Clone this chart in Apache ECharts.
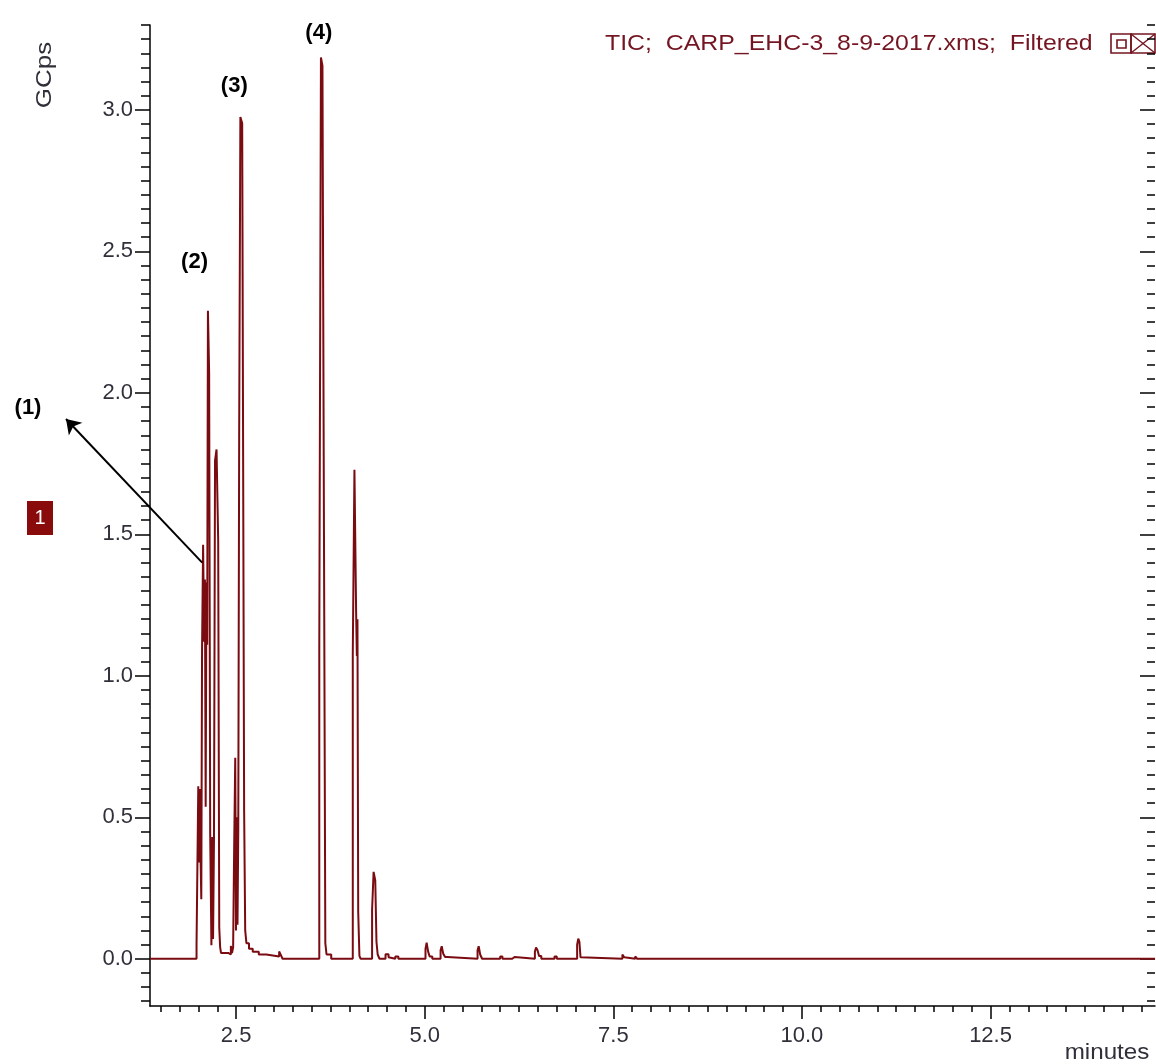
<!DOCTYPE html>
<html>
<head>
<meta charset="utf-8">
<script src="https://cdn.jsdelivr.net/npm/echarts@6/dist/echarts.min.js"></script>
<style>
  html, body { margin: 0; padding: 0; background: #ffffff; }
  #chart { width: 1156px; height: 1064px; }
</style>
</head>
<body>
<div id="chart"></div>
<script>
// Total ion chromatogram, step trace: each point is the time (min) a level starts and its intensity (GCps)
const traceTime = [
  1.358, 1.975, 1.998, 2.010, 2.018, 2.028, 2.038, 2.048, 2.062, 2.076,
  2.086, 2.096, 2.106, 2.116, 2.126, 2.142, 2.156, 2.172, 2.184, 2.194,
  2.206, 2.220, 2.240, 2.262, 2.276, 2.288, 2.300, 2.400, 2.430, 2.445,
  2.460, 2.474, 2.488, 2.498, 2.508, 2.518, 2.528, 2.540, 2.556, 2.580,
  2.606, 2.620, 2.636, 2.670, 2.720, 2.800, 2.900, 3.070, 3.095, 3.115,
  3.602, 3.624, 3.644, 3.664, 3.682, 3.698, 3.760,
  4.046, 4.068, 4.090, 4.100, 4.108, 4.118, 4.134, 4.150,
  4.302, 4.322, 4.344, 4.360, 4.376, 4.400,
  4.480, 4.520, 4.540, 4.610, 4.650,
  5.010, 5.025, 5.045, 5.065, 5.100,
  5.210, 5.225, 5.245, 5.270, 5.300,
  5.700, 5.715, 5.735, 5.760,
  6.000, 6.030, 6.160, 6.190,
  6.460, 6.475, 6.495, 6.515, 6.545,
  6.720, 6.750,
  7.020, 7.035, 7.050, 7.065, 7.085,
  7.620, 7.645, 7.670, 7.790, 7.815,
  14.68
];
const traceGcps = [
  0.000, 0.055, 0.610, 0.340, 0.600, 0.360, 0.210, 1.090, 1.463, 1.120,
  1.340, 0.537, 1.330, 1.110, 2.290, 2.070, 0.440, 0.048, 0.430, 0.070,
  0.420, 1.760, 1.800, 1.476, 0.110, 0.040, 0.020, 0.015, 0.045, 0.020,
  0.040, 0.400, 0.710, 0.100, 0.500, 0.120, 0.450, 1.850, 2.975, 2.953,
  0.520, 0.100, 0.055, 0.035, 0.025, 0.015, 0.008, 0.026, 0.012, 0.000,
  1.105, 3.185, 3.156, 1.508, 0.055, 0.015, 0.000,
  1.073, 1.728, 1.232, 1.070, 1.200, 0.165, 0.010, 0.000,
  0.173, 0.307, 0.277, 0.060, 0.015, 0.000,
  0.016, 0.005, 0.000, 0.008, 0.000,
  0.035, 0.057, 0.025, 0.008, 0.000,
  0.030, 0.044, 0.018, 0.006, 0.000,
  0.030, 0.044, 0.015, 0.000,
  0.008, 0.000, 0.006, 0.000,
  0.025, 0.040, 0.030, 0.010, 0.000,
  0.008, 0.000,
  0.050, 0.071, 0.060, 0.005, 0.000,
  0.015, 0.005, 0.000, 0.008, 0.000,
  0.000
];

// Annotated peaks
const peakLabels = ['(2)', '(3)', '(4)'];
const peakTimes = [2.134, 2.568, 3.635];
const peakValues = [2.29, 2.975, 3.185];
const peakLabelOffsets = [[-14, -49], [-7, -31], [-3, -25]];
const arrowFrom = [2.050, 1.40];   // pointer to peak (1)

// Axis ranges and tick labels
const X_MIN = 1.358, X_MAX = 14.68;
const Y_MIN = -0.167, Y_MAX = 3.30;
const xMajorTicks = [2.5, 5.0, 7.5, 10.0, 12.5];
const yMajorTicks = [0.0, 0.5, 1.0, 1.5, 2.0, 2.5, 3.0];
const xMinorTicks = [];
for (let i = 6; i <= 58; i++) xMinorTicks.push(i * 0.25);
const yMinorTicks = [];
for (let i = -3; i <= 66; i++) yMinorTicks.push(+(i * 0.05).toFixed(2));

const FONT = 'Liberation Sans, Arial, sans-serif';
const INK = '#000000';
const LABEL = '#30303a';
const TRACE = '#7a0b10';
const MAROON = '#741521';

const traceData = traceTime.map((t, i) => [t, traceGcps[i]]);

function axisBase(extra) {
  return Object.assign({
    type: 'value',
    splitLine: { show: false },
    axisLine: { show: true, onZero: false, lineStyle: { color: INK, width: 1.5 } },
    axisLabel: { show: false }
  }, extra);
}

const chart = echarts.init(document.getElementById('chart'), null, { renderer: 'canvas' });

chart.setOption({
  animation: false,
  backgroundColor: '#ffffff',
  grid: { left: 150, right: 1, top: 25, bottom: 58, containLabel: false },
  xAxis: [
    axisBase({
      min: X_MIN, max: X_MAX, position: 'bottom',
      axisTick: { show: true, length: 6, customValues: xMinorTicks, lineStyle: { color: INK, width: 1.5 } }
    }),
    axisBase({
      min: X_MIN, max: X_MAX, position: 'bottom',
      axisLine: { show: false, onZero: false },
      axisTick: { show: true, length: 13, customValues: xMajorTicks, lineStyle: { color: INK, width: 1.5 } },
      axisLabel: {
        show: true, customValues: xMajorTicks, margin: 19,
        color: LABEL, fontSize: 22, fontFamily: FONT,
        formatter: v => v.toFixed(1)
      }
    })
  ],
  yAxis: [
    axisBase({
      min: Y_MIN, max: Y_MAX, position: 'left',
      axisTick: { show: true, length: 9, customValues: yMinorTicks, lineStyle: { color: INK, width: 1.5 } }
    }),
    axisBase({
      min: Y_MIN, max: Y_MAX, position: 'left',
      axisLine: { show: false, onZero: false },
      axisTick: { show: true, length: 15, customValues: yMajorTicks, lineStyle: { color: INK, width: 1.5 } },
      axisLabel: {
        show: true, customValues: yMajorTicks, margin: 17,
        color: LABEL, fontSize: 22, fontFamily: FONT,
        formatter: v => v.toFixed(1)
      }
    }),
    axisBase({
      min: Y_MIN, max: Y_MAX, position: 'right',
      axisLine: { show: false, onZero: false },
      axisTick: { show: true, inside: true, length: 8, customValues: yMinorTicks, lineStyle: { color: INK, width: 1.5 } }
    }),
    axisBase({
      min: Y_MIN, max: Y_MAX, position: 'right',
      axisLine: { show: false, onZero: false },
      axisTick: { show: true, inside: true, length: 15, customValues: yMajorTicks, lineStyle: { color: INK, width: 1.5 } }
    })
  ],
  series: [{
    type: 'line',
    xAxisIndex: 0,
    yAxisIndex: 0,
    step: 'end',
    showSymbol: false,
    clip: false,
    data: traceData,
    lineStyle: { color: TRACE, width: 2 },
    markPoint: {
      symbol: 'circle',
      symbolSize: 0,
      silent: true,
      label: {
        show: true, position: 'inside',
        color: '#000', fontWeight: 'bold', fontSize: 22, fontFamily: FONT
      },
      data: peakLabels.map((txt, i) => ({
        coord: [peakTimes[i], peakValues[i]],
        label: { formatter: txt, offset: peakLabelOffsets[i] }
      })).concat([{ x: 28, y: 408, label: { formatter: '(1)' } }])
    },
    markLine: {
      silent: true,
      symbol: ['none', 'arrow'],
      symbolSize: 14,
      label: { show: false },
      lineStyle: { color: '#000', width: 2, type: 'solid' },
      data: [[{ coord: arrowFrom }, { x: 66, y: 419 }]]
    }
  }],
  graphic: [
    {
      type: 'text', x: 45, y: 75, rotation: Math.PI / 2, scaleX: 1.18,
      style: { text: 'GCps', fill: LABEL, font: '22px ' + FONT, align: 'center', verticalAlign: 'middle' }
    },
    {
      type: 'text', x: 1107, y: 1053, scaleX: 1.1,
      style: { text: 'minutes', fill: LABEL, font: '22px ' + FONT, align: 'center', verticalAlign: 'middle' }
    },
    {
      type: 'text', x: 605, y: 44, scaleX: 1.13,
      style: { text: 'TIC;  CARP_EHC-3_8-9-2017.xms;  Filtered', fill: MAROON, font: '22px ' + FONT, align: 'left', verticalAlign: 'middle' }
    },
    {
      type: 'rect', shape: { x: 1111, y: 34, width: 20, height: 19 },
      style: { fill: 'none', stroke: MAROON, lineWidth: 1.6 }
    },
    {
      type: 'rect', shape: { x: 1117, y: 40, width: 9, height: 8 },
      style: { fill: 'none', stroke: MAROON, lineWidth: 1.6 }
    },
    {
      type: 'rect', shape: { x: 1131, y: 34, width: 24, height: 19 },
      style: { fill: 'none', stroke: MAROON, lineWidth: 1.6 }
    },
    {
      type: 'polyline', shape: { points: [[1131, 34], [1155, 53]] },
      style: { stroke: MAROON, lineWidth: 1.4 }
    },
    {
      type: 'polyline', shape: { points: [[1131, 53], [1155, 34]] },
      style: { stroke: MAROON, lineWidth: 1.4 }
    },
    {
      type: 'rect', shape: { x: 27, y: 501, width: 26, height: 34 },
      style: { fill: '#8a0b0b' }
    },
    {
      type: 'text', x: 40, y: 518,
      style: { text: '1', fill: '#ffffff', font: '20px ' + FONT, align: 'center', verticalAlign: 'middle' }
    }
  ]
});
</script>
</body>
</html>
